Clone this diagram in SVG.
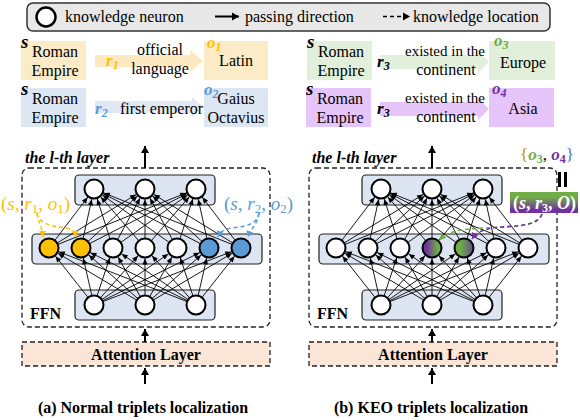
<svg xmlns="http://www.w3.org/2000/svg" width="580" height="420" viewBox="0 0 580 420" font-family="'Liberation Serif', 'DejaVu Serif', serif">
<style>
text{font-family:'Liberation Serif','DejaVu Serif',serif;fill:#000}
.t15{font-size:16px}
.t14{font-size:15px}
.b{font-weight:bold}
.bi{font-weight:bold;font-style:italic}
.mi{font-style:italic}
.nl{stroke:#000;stroke-width:0.9;fill:none}
.neu{fill:#fff;stroke:#000;stroke-width:2}
.lay{fill:#dde5f2;stroke:#222;stroke-width:1.2}
.dbox{fill:none;stroke:#222;stroke-width:1.3;stroke-dasharray:5,3}
.big{stroke:#000;stroke-width:2}
</style>
<defs>
<marker id="ah" markerUnits="userSpaceOnUse" markerWidth="12" markerHeight="8" refX="10.5" refY="0" orient="auto" overflow="visible">
<path d="M-6,-2.6 L0,0 L-6,2.6 z" fill="#000"/>
</marker>
<marker id="up" markerUnits="userSpaceOnUse" markerWidth="10" markerHeight="10" refX="0" refY="0" orient="auto" overflow="visible">
<path d="M-7,-4 L0,0 L-7,4 z" fill="#000"/>
</marker>
<marker id="mY" markerUnits="userSpaceOnUse" markerWidth="8" markerHeight="8" refX="0" refY="0" orient="auto" overflow="visible"><path d="M-6,-3.5 L0,0 L-6,3.5 z" fill="#ffc000"/></marker>
<marker id="mB" markerUnits="userSpaceOnUse" markerWidth="8" markerHeight="8" refX="0" refY="0" orient="auto" overflow="visible"><path d="M-6,-3.5 L0,0 L-6,3.5 z" fill="#5b9bd5"/></marker>
<marker id="mG" markerUnits="userSpaceOnUse" markerWidth="8" markerHeight="8" refX="0" refY="0" orient="auto" overflow="visible"><path d="M-6,-3.5 L0,0 L-6,3.5 z" fill="#70ad47"/></marker>
<marker id="mP" markerUnits="userSpaceOnUse" markerWidth="8" markerHeight="8" refX="0" refY="0" orient="auto" overflow="visible"><path d="M-6,-3.5 L0,0 L-6,3.5 z" fill="#7030a0"/></marker>
<linearGradient id="gN4" x1="0" y1="0" x2="1" y2="0"><stop offset="0.2" stop-color="#7030a0"/><stop offset="0.8" stop-color="#70ad47"/></linearGradient>
<linearGradient id="gN5" x1="0" y1="0" x2="1" y2="0"><stop offset="0.3" stop-color="#70ad47"/><stop offset="1" stop-color="#6a4a90"/></linearGradient>
<linearGradient id="gBox" x1="0" y1="0" x2="0" y2="1"><stop offset="0.25" stop-color="#70ad47"/><stop offset="0.85" stop-color="#7030a0"/></linearGradient>
</defs>

<!-- Legend -->
<g id="legend">
<rect x="27" y="3" width="523" height="28" rx="6" fill="#e8e8e8" stroke="#333" stroke-width="1.5"/>
<circle cx="46" cy="17" r="9.5" fill="#fff" stroke="#000" stroke-width="2.5"/>
<text class="t15" x="65" y="22">knowledge neuron</text>
<line x1="215" y1="16.5" x2="239" y2="16.5" stroke="#000" stroke-width="2" marker-end="url(#up)"/>
<text class="t15" x="245" y="22">passing direction</text>
<line x1="383" y1="16.5" x2="410" y2="16.5" stroke="#000" stroke-width="1.5" stroke-dasharray="4,3" marker-end="url(#up)"/>
<text class="t15" x="413" y="22">knowledge location</text>
</g>

<!-- Fact rows, left -->
<g id="fact1">
<rect x="21" y="41" width="65" height="39" fill="#fcebc7"/>
<text class="bi" x="21" y="48" font-size="19">s</text>
<text class="t15" x="55" y="57" text-anchor="middle">Roman</text>
<text class="t15" x="55" y="76" text-anchor="middle">Empire</text>
<path d="M95,55 H190 V50 L203,61 L190,72 V67 H95 z" fill="#fde8c0"/>
<text class="bi" x="106" y="66" font-size="17" style="fill:#ffc000">r<tspan font-size="12" dy="3">1</tspan></text>
<text class="t15" x="160" y="55" text-anchor="middle">official</text>
<text class="t15" x="160" y="74" text-anchor="middle">language</text>
<rect x="204" y="41" width="64" height="39" fill="#fcebc7"/>
<text class="bi" x="207" y="48" font-size="17" style="fill:#ffc000">o<tspan font-size="12" dy="3">1</tspan></text>
<text class="t15" x="236" y="66" text-anchor="middle">Latin</text>
</g>
<g id="fact2">
<rect x="21" y="88" width="65" height="39" fill="#dde7f3"/>
<text class="bi" x="21" y="95" font-size="19">s</text>
<text class="t15" x="55" y="104" text-anchor="middle">Roman</text>
<text class="t15" x="55" y="123" text-anchor="middle">Empire</text>
<path d="M95,101 H192 V97 L203,107 L192,117 V113 H95 z" fill="#dfe8f4"/>
<text class="bi" x="95" y="114" font-size="17" style="fill:#5b9bd5">r<tspan font-size="12" dy="3">2</tspan></text>
<text class="t15" x="120" y="114">first emperor</text>
<rect x="204" y="88" width="64" height="39" fill="#dde7f3"/>
<text class="bi" x="204" y="95" font-size="17" style="fill:#5b9bd5">o<tspan font-size="12" dy="3">2</tspan></text>
<text class="t15" x="236" y="104" text-anchor="middle">Gaius</text>
<text class="t15" x="236" y="123" text-anchor="middle">Octavius</text>
</g>

<!-- Fact rows, right -->
<g id="fact3">
<rect x="307" y="41" width="65" height="39" fill="#e2efda"/>
<text class="bi" x="307" y="48" font-size="19">s</text>
<text class="t15" x="341" y="57" text-anchor="middle">Roman</text>
<text class="t15" x="341" y="76" text-anchor="middle">Empire</text>
<path d="M380,55 H478 V51 L489,62 L478,73 V69 H380 z" fill="#e2efda"/>
<text class="bi" x="377" y="67" font-size="17">r<tspan font-size="12" dy="3">3</tspan></text>
<text class="t14" x="445" y="56" text-anchor="middle">existed in the</text>
<text class="t15" x="446" y="75" text-anchor="middle">continent</text>
<rect x="489" y="41" width="66" height="39" fill="#e2efda"/>
<text class="bi" x="494" y="46" font-size="17" style="fill:#70ad47">o<tspan font-size="12" dy="3">3</tspan></text>
<text class="t15" x="523" y="68" text-anchor="middle">Europe</text>
</g>
<g id="fact4">
<rect x="306" y="88" width="65" height="39" fill="#e6c5fb"/>
<text class="bi" x="306" y="95" font-size="19">s</text>
<text class="t15" x="340" y="104" text-anchor="middle">Roman</text>
<text class="t15" x="340" y="123" text-anchor="middle">Empire</text>
<path d="M380,102 H478 V98 L489,109 L478,120 V116 H380 z" fill="#e6c5fb"/>
<text class="bi" x="377" y="114" font-size="17">r<tspan font-size="12" dy="3">3</tspan></text>
<text class="t14" x="445" y="103" text-anchor="middle">existed in the</text>
<text class="t15" x="446" y="122" text-anchor="middle">continent</text>
<rect x="489" y="88" width="65" height="39" fill="#e6c5fb"/>
<text class="bi" x="492" y="94" font-size="17" style="fill:#7030a0">o<tspan font-size="12" dy="3">4</tspan></text>
<text class="t15" x="523" y="114" text-anchor="middle">Asia</text>
</g>

<!-- Frames -->
<g id="frame-a">
<rect class="dbox" x="22" y="168" width="248" height="159" rx="7"/>
<text class="bi t15" x="25" y="163">the l-th layer</text>
<text class="b t15" x="30" y="319">FFN</text>
</g>
<g id="frame-b">
<rect class="dbox" x="309" y="168" width="248" height="159" rx="7"/>
<text class="bi t15" x="312" y="163">the l-th layer</text>
<text class="b t15" x="317" y="319">FFN</text>
</g>
<g id="attn-a">
<rect x="22" y="342" width="248" height="24" fill="#fbe5d6" stroke="#222" stroke-width="1.3" stroke-dasharray="5,3"/>
<text class="b t15" x="146" y="360" text-anchor="middle">Attention Layer</text>
</g>
<g id="attn-b">
<rect x="309" y="342" width="248" height="24" fill="#fbe5d6" stroke="#222" stroke-width="1.3" stroke-dasharray="5,3"/>
<text class="b t15" x="433" y="360" text-anchor="middle">Attention Layer</text>
</g>

<!-- Layer boxes -->
<g id="layers">
<rect class="lay" x="75" y="175" width="140" height="30" rx="4"/>
<rect class="lay" x="32" y="234" width="230" height="30" rx="4"/>
<rect class="lay" x="75" y="290" width="140" height="30" rx="4"/>
<rect class="lay" x="362" y="175" width="140" height="30" rx="4"/>
<rect class="lay" x="319" y="234" width="230" height="30" rx="4"/>
<rect class="lay" x="362" y="290" width="140" height="30" rx="4"/>
</g>

<!-- Connectors -->
<g id="connectors">
<g id="netlines-a" class="nl" marker-end="url(#ah)">
<line x1="49" y1="248" x2="94" y2="189"/><line x1="49" y1="248" x2="145" y2="189"/><line x1="49" y1="248" x2="196" y2="189"/>
<line x1="81" y1="248" x2="94" y2="189"/><line x1="81" y1="248" x2="145" y2="189"/><line x1="81" y1="248" x2="196" y2="189"/>
<line x1="113" y1="248" x2="94" y2="189"/><line x1="113" y1="248" x2="145" y2="189"/><line x1="113" y1="248" x2="196" y2="189"/>
<line x1="145" y1="248" x2="94" y2="189"/><line x1="145" y1="248" x2="145" y2="189"/><line x1="145" y1="248" x2="196" y2="189"/>
<line x1="177" y1="248" x2="94" y2="189"/><line x1="177" y1="248" x2="145" y2="189"/><line x1="177" y1="248" x2="196" y2="189"/>
<line x1="209" y1="248" x2="94" y2="189"/><line x1="209" y1="248" x2="145" y2="189"/><line x1="209" y1="248" x2="196" y2="189"/>
<line x1="241" y1="248" x2="94" y2="189"/><line x1="241" y1="248" x2="145" y2="189"/><line x1="241" y1="248" x2="196" y2="189"/>
<line x1="94" y1="305" x2="49" y2="248"/><line x1="145" y1="305" x2="49" y2="248"/><line x1="196" y1="305" x2="49" y2="248"/>
<line x1="94" y1="305" x2="81" y2="248"/><line x1="145" y1="305" x2="81" y2="248"/><line x1="196" y1="305" x2="81" y2="248"/>
<line x1="94" y1="305" x2="113" y2="248"/><line x1="145" y1="305" x2="113" y2="248"/><line x1="196" y1="305" x2="113" y2="248"/>
<line x1="94" y1="305" x2="145" y2="248"/><line x1="145" y1="305" x2="145" y2="248"/><line x1="196" y1="305" x2="145" y2="248"/>
<line x1="94" y1="305" x2="177" y2="248"/><line x1="145" y1="305" x2="177" y2="248"/><line x1="196" y1="305" x2="177" y2="248"/>
<line x1="94" y1="305" x2="209" y2="248"/><line x1="145" y1="305" x2="209" y2="248"/><line x1="196" y1="305" x2="209" y2="248"/>
<line x1="94" y1="305" x2="241" y2="248"/><line x1="145" y1="305" x2="241" y2="248"/><line x1="196" y1="305" x2="241" y2="248"/>
</g>
<use href="#netlines-a" transform="translate(287,0)"/>
<!-- passing arrows -->
<line class="big" x1="145" y1="168" x2="145" y2="146" marker-end="url(#up)"/>
<line class="big" x1="145" y1="342" x2="145" y2="329" marker-end="url(#up)"/>
<line class="big" x1="145" y1="384" x2="145" y2="368" marker-end="url(#up)"/>
<line class="big" x1="432" y1="168" x2="432" y2="146" marker-end="url(#up)"/>
<line class="big" x1="432" y1="342" x2="432" y2="329" marker-end="url(#up)"/>
<line class="big" x1="432" y1="384" x2="432" y2="368" marker-end="url(#up)"/>
<!-- knowledge location arrows -->
<path d="M37,213 C38,222 42,226 43,237" fill="none" stroke="#ffc000" stroke-width="1.5" stroke-dasharray="4,3" marker-end="url(#mY)"/>
<path d="M37,213 C40,226 55,226 66,228 C72,229 75,231 76,237" fill="none" stroke="#ffc000" stroke-width="1.5" stroke-dasharray="4,3" marker-end="url(#mY)"/>
<path d="M259,213 C257,224 248,226 232,228 C224,229 220,232 218,237" fill="none" stroke="#5b9bd5" stroke-width="1.5" stroke-dasharray="4,3" marker-end="url(#mB)"/>
<path d="M259,213 C258,224 251,228 248,237" fill="none" stroke="#5b9bd5" stroke-width="1.5" stroke-dasharray="4,3" marker-end="url(#mB)"/>
<path d="M542,214 C534,232 490,225 462,230 C450,232 444,235 440,240" fill="none" stroke="#70ad47" stroke-width="1.5" stroke-dasharray="4,3" marker-end="url(#mG)"/>
<path d="M542,214 C537,230 505,224 488,229 C480,231 475,234 472,239" fill="none" stroke="#7030a0" stroke-width="1.5" stroke-dasharray="4,3" marker-end="url(#mP)"/>
</g>

<!-- Neurons left -->
<g id="neurons-a">
<circle class="neu" cx="94" cy="189" r="9.5"/><circle class="neu" cx="145" cy="189" r="9.5"/><circle class="neu" cx="196" cy="189" r="9.5"/>
<circle class="neu" cx="49" cy="248" r="9.5" style="fill:#ffc000"/>
<circle class="neu" cx="81" cy="248" r="9.5" style="fill:#ffc000"/>
<circle class="neu" cx="113" cy="248" r="9.5"/>
<circle class="neu" cx="145" cy="248" r="9.5"/>
<circle class="neu" cx="177" cy="248" r="9.5"/>
<circle class="neu" cx="209" cy="248" r="9.5" style="fill:#5b9bd5"/>
<circle class="neu" cx="241" cy="248" r="9.5" style="fill:#5b9bd5"/>
<circle class="neu" cx="94" cy="305" r="9.5"/><circle class="neu" cx="145" cy="305" r="9.5"/><circle class="neu" cx="196" cy="305" r="9.5"/>
</g>
<!-- Neurons right -->
<g id="neurons-b">
<circle class="neu" cx="381" cy="189" r="9.5"/><circle class="neu" cx="432" cy="189" r="9.5"/><circle class="neu" cx="483" cy="189" r="9.5"/>
<circle class="neu" cx="336" cy="248" r="9.5"/>
<circle class="neu" cx="368" cy="248" r="9.5"/>
<circle class="neu" cx="400" cy="248" r="9.5"/>
<circle class="neu" cx="432" cy="248" r="9.5" style="fill:url(#gN4)"/>
<circle class="neu" cx="464" cy="248" r="9.5" style="fill:url(#gN5)"/>
<circle class="neu" cx="496" cy="248" r="9.5"/>
<circle class="neu" cx="528" cy="248" r="9.5"/>
<circle class="neu" cx="381" cy="305" r="9.5"/><circle class="neu" cx="432" cy="305" r="9.5"/><circle class="neu" cx="483" cy="305" r="9.5"/>
</g>

<!-- Triplet labels -->
<g id="label-t1">
<text x="1" y="210" font-size="19" style="fill:#ffc000">(<tspan class="mi">s</tspan>, <tspan class="mi">r</tspan><tspan font-size="13" dy="3">1</tspan><tspan dy="-3">, </tspan><tspan class="mi">o</tspan><tspan font-size="13" dy="3">1</tspan><tspan dy="-3">)</tspan></text>
</g>
<g id="label-t2">
<text x="224" y="210" font-size="19" style="fill:#5b9bd5">(<tspan class="mi">s</tspan>, <tspan class="mi">r</tspan><tspan font-size="13" dy="3">2</tspan><tspan dy="-3">, </tspan><tspan class="mi">o</tspan><tspan font-size="13" dy="3">2</tspan><tspan dy="-3">)</tspan></text>
</g>
<g id="label-set">
<text x="520" y="160" font-size="17"><tspan style="fill:#bf9000">{</tspan><tspan class="mi b" style="fill:#70ad47">o</tspan><tspan font-size="12" dy="3" class="b" style="fill:#70ad47">3</tspan><tspan dy="-3">, </tspan><tspan class="mi b" style="fill:#7030a0">o</tspan><tspan font-size="12" dy="3" class="b" style="fill:#7030a0">4</tspan><tspan dy="-3" style="fill:#4472c4">}</tspan></text>
<rect x="558" y="172" width="3" height="15" fill="#000"/>
<rect x="564" y="172" width="3" height="15" fill="#000"/>
</g>
<g id="label-t3">
<rect x="510" y="192" width="68" height="21" fill="url(#gBox)"/>
<text x="513" y="209" font-size="18" class="b" style="fill:#fff">(<tspan class="mi">s</tspan>, <tspan class="mi">r</tspan><tspan font-size="12" dy="3">3</tspan><tspan dy="-3">, </tspan><tspan class="mi">O</tspan>)</text>
</g>

<!-- Captions -->
<g id="captions">
<text class="b" x="143" y="413" font-size="16" text-anchor="middle">(a) Normal triplets localization</text>
<text class="b" x="431" y="413" font-size="16" text-anchor="middle">(b) KEO triplets localization</text>
</g>
</svg>
